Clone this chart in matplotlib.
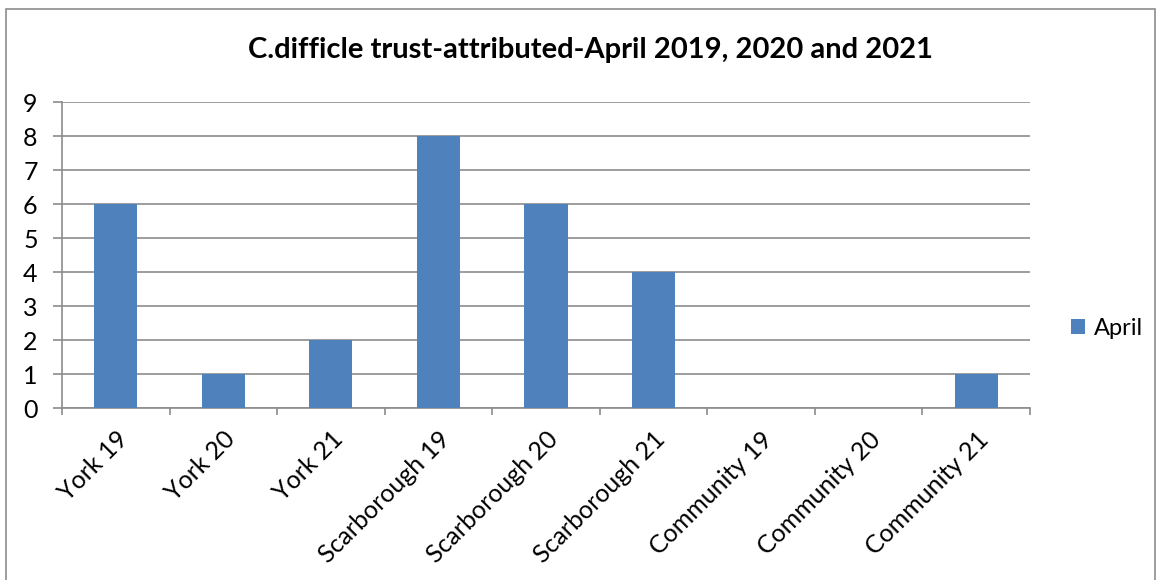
import matplotlib.pyplot as plt
import numpy as np
from matplotlib.patches import Rectangle

categories = ['York 19', 'York 20', 'York 21', 'Scarborough 19', 'Scarborough 20',
              'Scarborough 21', 'Community 19', 'Community 20', 'Community 21']
april = [6, 1, 2, 8, 6, 4, 0, 0, 1]
yticks = list(range(0, 10))

plt.rcParams['font.family'] = ['Lato', 'DejaVu Sans']

fig = plt.figure(figsize=(11.58, 5.8), dpi=100)
ax = fig.add_axes([62/1158, 1-408/580, (1030-62)/1158, (408-102)/580])

grid_col = '#8c8c8c'
x = np.arange(len(categories))
ax.bar(x, april, width=0.4, color='#4f81bd', label='April', zorder=3)

ax.set_xlim(-0.5, len(categories)-0.5)
ax.set_ylim(0, 9)
ax.set_yticks(yticks)
ax.set_yticklabels([str(t) for t in yticks], fontsize=18)
ax.yaxis.grid(True, color=grid_col, linewidth=1.2, zorder=0)

ax.set_xticks(np.arange(-0.5, len(categories), 1.0), minor=False)
ax.set_xticklabels([])
ax.set_xticks(x, minor=True)
ax.set_xticklabels(categories, minor=True, rotation=45, ha='right',
                   rotation_mode='anchor', fontsize=18)
ax.tick_params(axis='x', which='major', length=5, color=grid_col, width=1.2)
ax.tick_params(axis='x', which='minor', length=0, pad=14)
ax.tick_params(axis='y', length=6.5, color=grid_col, width=1.2, pad=11)

for s in ['top', 'right']:
    ax.spines[s].set_visible(False)
for s in ['left', 'bottom']:
    ax.spines[s].set_color(grid_col)
    ax.spines[s].set_linewidth(1.2)

ax.legend(loc='center left', bbox_to_anchor=(1.02, 0.26), frameon=False,
          fontsize=17, handlelength=0.6, handleheight=0.6, handletextpad=0.4)

fig.text(590/1158, 1-50/580, 'C.difficle trust-attributed-April 2019, 2020 and 2021',
         ha='center', va='center', fontsize=21, fontweight='bold')

fig.patches.append(Rectangle((6/1158, -0.01), (1155-6)/1158, 1-9/580+0.01,
                             transform=fig.transFigure, fill=False,
                             edgecolor='#8c8c8c', linewidth=1.2))

fig.savefig('out.png', dpi=100)
